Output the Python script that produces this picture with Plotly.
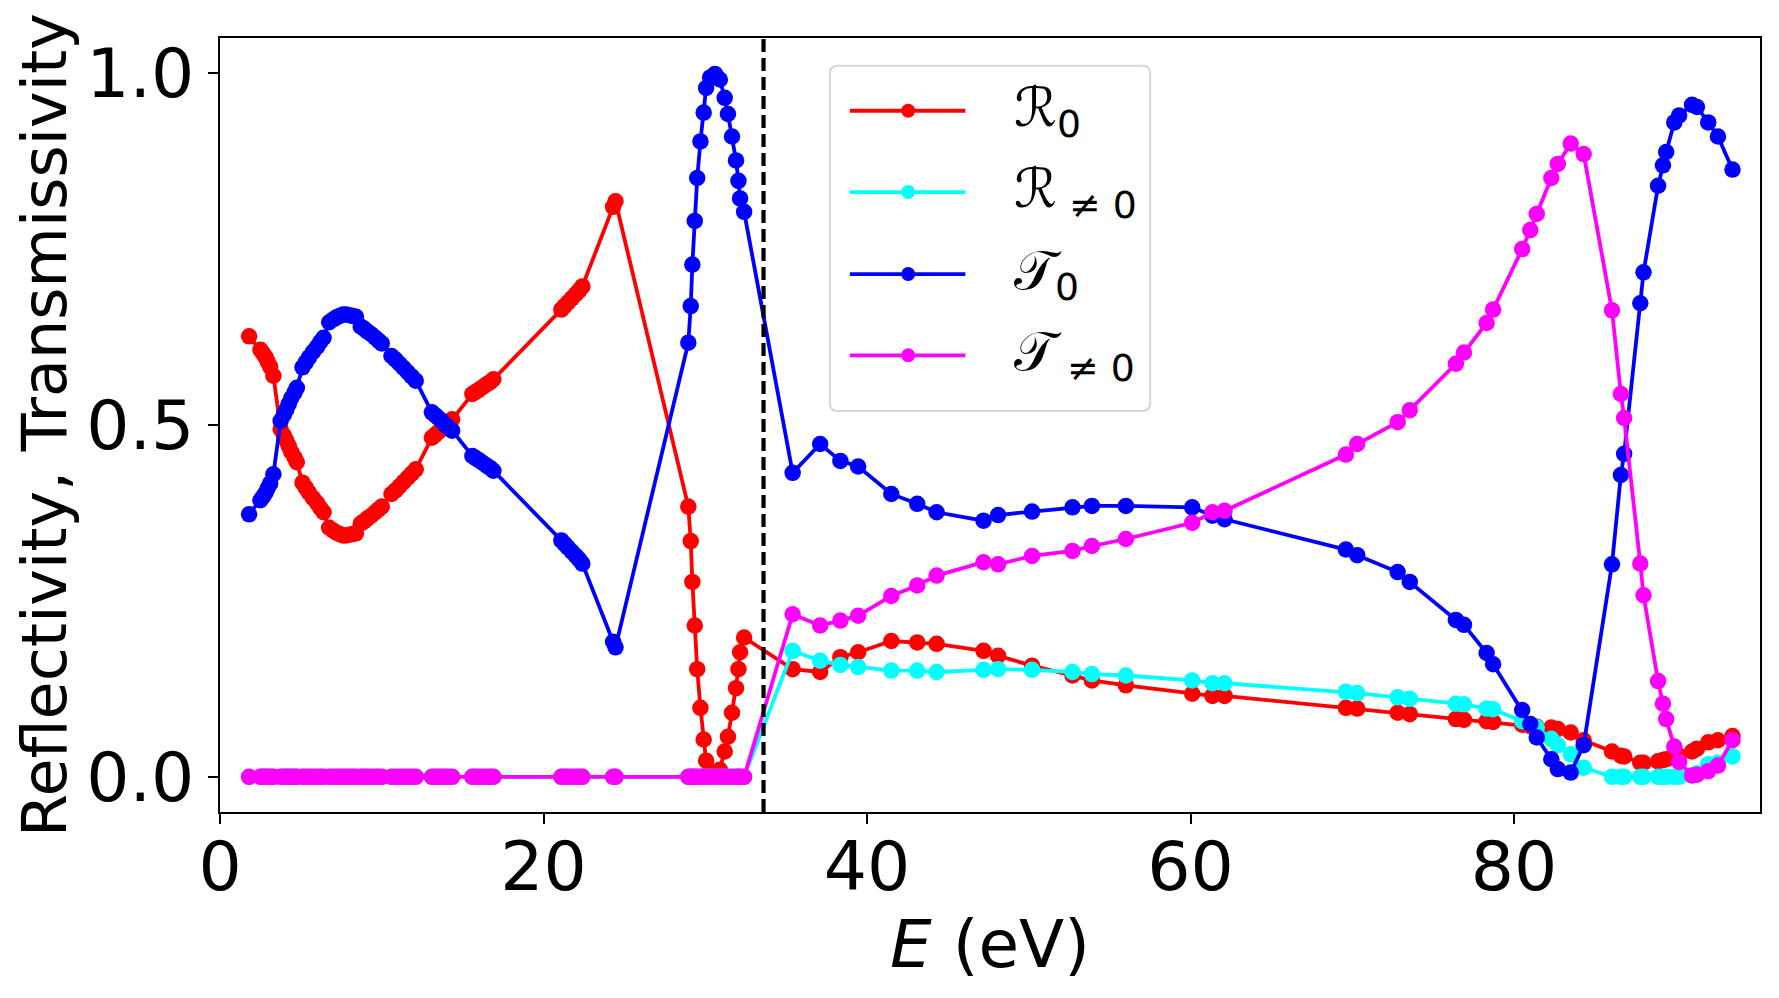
import plotly.graph_objects as go

# photon energy grid (eV), shared by all four curves
energy = [
    1.8,
    2.5, 2.65, 2.8, 2.95, 3.1, 3.3,
    3.75, 3.95, 4.1, 4.25, 4.4, 4.6, 4.75,
    5.1, 5.3, 5.5, 5.75, 6.0, 6.2, 6.4,
    6.75, 7.0, 7.2, 7.4, 7.6, 7.8, 8.0, 8.2, 8.4,
    8.7, 8.9, 9.1, 9.35, 9.6, 9.8, 10.0,
    10.6, 10.85, 11.1, 11.35, 11.6, 11.85, 12.1,
    13.1, 13.3, 13.5, 13.7, 13.9, 14.1, 14.35,
    15.6, 15.8, 16.0, 16.25, 16.5, 16.7, 16.9,
    21.1, 21.3, 21.5, 21.75, 22.0, 22.2, 22.4,
    24.3, 24.45,
    28.95, 29.1, 29.2, 29.35, 29.5, 29.7, 29.9, 30.05, 30.3, 30.6, 30.9,
    31.2, 31.4, 31.65, 31.9, 32.05, 32.15, 32.4,
    35.4, 37.1, 38.35, 39.45, 41.5, 43.1, 44.3, 47.2, 48.1, 50.2, 52.7,
    53.9, 56.0, 60.1, 61.35, 62.1,
    69.6, 70.3, 72.8, 73.55, 76.4, 76.9, 78.3, 78.7, 80.5, 81.0, 81.4,
    82.3, 82.7, 83.5, 84.3, 86.05, 86.6, 86.8, 87.8, 88.0, 88.9, 89.2,
    89.4, 89.9, 90.2, 91.0, 91.3, 92.0, 92.6, 93.5,
]

R0 = [
    0.626,
    0.607, 0.602, 0.597, 0.590, 0.583, 0.570,
    0.494, 0.485, 0.478, 0.470, 0.462, 0.454, 0.447,
    0.418, 0.411, 0.404, 0.396, 0.389, 0.382, 0.376,
    0.354, 0.350, 0.347, 0.345, 0.343, 0.343, 0.344, 0.345, 0.346,
    0.360, 0.363, 0.367, 0.371, 0.376, 0.380, 0.384,
    0.402, 0.407, 0.413, 0.419, 0.425, 0.431, 0.437,
    0.482, 0.486, 0.490, 0.494, 0.499, 0.503, 0.508,
    0.544, 0.547, 0.550, 0.554, 0.558, 0.561, 0.565,
    0.664, 0.669, 0.674, 0.680, 0.686, 0.691, 0.697,
    0.810, 0.818,
    0.384, 0.335, 0.277, 0.215, 0.153, 0.098, 0.053, 0.023, 0.008, 0.002,
    0.010, 0.036, 0.057, 0.091, 0.126, 0.153, 0.177, 0.198,
    0.153, 0.149, 0.170, 0.177, 0.193, 0.191, 0.189, 0.179, 0.172, 0.158,
    0.144, 0.137, 0.130, 0.118, 0.115, 0.115,
    0.098, 0.097, 0.091, 0.089, 0.082, 0.081, 0.079, 0.078, 0.074, 0.072,
    0.071, 0.070, 0.068, 0.063, 0.052, 0.036, 0.030, 0.029, 0.020, 0.020,
    0.022, 0.024, 0.025, 0.027, 0.030, 0.036, 0.040, 0.049, 0.052, 0.058,
]

R_ne0 = [
    0.0,
    0.0, 0.0, 0.0, 0.0, 0.0, 0.0,
    0.0, 0.0, 0.0, 0.0, 0.0, 0.0, 0.0,
    0.0, 0.0, 0.0, 0.0, 0.0, 0.0, 0.0,
    0.0, 0.0, 0.0, 0.0, 0.0, 0.0, 0.0, 0.0, 0.0,
    0.0, 0.0, 0.0, 0.0, 0.0, 0.0, 0.0,
    0.0, 0.0, 0.0, 0.0, 0.0, 0.0, 0.0,
    0.0, 0.0, 0.0, 0.0, 0.0, 0.0, 0.0,
    0.0, 0.0, 0.0, 0.0, 0.0, 0.0, 0.0,
    0.0, 0.0, 0.0, 0.0, 0.0, 0.0, 0.0,
    0.0, 0.0,
    0.0, 0.0, 0.0, 0.0, 0.0, 0.0, 0.0, 0.0, 0.0, 0.0,
    0.0, 0.0, 0.0, 0.0, 0.0, 0.0, 0.0, 0.0,
    0.179, 0.165, 0.159, 0.156, 0.151, 0.151, 0.149, 0.152, 0.153, 0.152,
    0.149, 0.146, 0.144, 0.137, 0.133, 0.133,
    0.121, 0.119, 0.113, 0.111, 0.104, 0.103, 0.097, 0.096, 0.079, 0.075,
    0.070, 0.054, 0.045, 0.032, 0.013, 0.0, 0.0, 0.0, 0.0, 0.0,
    0.0, 0.0, 0.0, 0.0, 0.0, 0.002, 0.005, 0.018, 0.020, 0.029,
]

T0 = [
    0.373,
    0.393, 0.398, 0.403, 0.410, 0.417, 0.430,
    0.506, 0.515, 0.522, 0.530, 0.538, 0.546, 0.553,
    0.582, 0.589, 0.596, 0.604, 0.611, 0.618, 0.624,
    0.646, 0.650, 0.653, 0.655, 0.657, 0.657, 0.656, 0.655, 0.654,
    0.640, 0.637, 0.633, 0.629, 0.624, 0.620, 0.616,
    0.598, 0.593, 0.587, 0.581, 0.575, 0.569, 0.563,
    0.518, 0.514, 0.510, 0.506, 0.501, 0.497, 0.492,
    0.456, 0.453, 0.450, 0.446, 0.442, 0.439, 0.435,
    0.336, 0.331, 0.326, 0.320, 0.314, 0.309, 0.303,
    0.192, 0.184,
    0.617, 0.669, 0.728, 0.790, 0.851, 0.903, 0.944, 0.979, 0.994, 0.999,
    0.991, 0.965, 0.942, 0.910, 0.876, 0.847, 0.822, 0.803,
    0.432, 0.473, 0.449, 0.441, 0.402, 0.388, 0.376, 0.364, 0.372, 0.377,
    0.383, 0.385, 0.385, 0.383, 0.371, 0.366,
    0.323, 0.315, 0.291, 0.277, 0.223, 0.216, 0.176, 0.160, 0.095, 0.075,
    0.056, 0.025, 0.011, 0.006, 0.045, 0.302, 0.429, 0.459, 0.673, 0.717,
    0.840, 0.869, 0.888, 0.930, 0.940, 0.955, 0.952, 0.930, 0.910, 0.863,
]

T_ne0 = [
    0.0,
    0.0, 0.0, 0.0, 0.0, 0.0, 0.0,
    0.0, 0.0, 0.0, 0.0, 0.0, 0.0, 0.0,
    0.0, 0.0, 0.0, 0.0, 0.0, 0.0, 0.0,
    0.0, 0.0, 0.0, 0.0, 0.0, 0.0, 0.0, 0.0, 0.0,
    0.0, 0.0, 0.0, 0.0, 0.0, 0.0, 0.0,
    0.0, 0.0, 0.0, 0.0, 0.0, 0.0, 0.0,
    0.0, 0.0, 0.0, 0.0, 0.0, 0.0, 0.0,
    0.0, 0.0, 0.0, 0.0, 0.0, 0.0, 0.0,
    0.0, 0.0, 0.0, 0.0, 0.0, 0.0, 0.0,
    0.0, 0.0,
    0.0, 0.0, 0.0, 0.0, 0.0, 0.0, 0.0, 0.0, 0.0, 0.0,
    0.0, 0.0, 0.0, 0.0, 0.0, 0.0, 0.0, 0.0,
    0.231, 0.215, 0.222, 0.229, 0.257, 0.272, 0.286, 0.305, 0.302, 0.314,
    0.321, 0.328, 0.338, 0.361, 0.376, 0.378,
    0.458, 0.473, 0.504, 0.521, 0.587, 0.603, 0.645, 0.664, 0.750, 0.777,
    0.800, 0.851, 0.871, 0.900, 0.885, 0.663, 0.544, 0.510, 0.303, 0.258,
    0.136, 0.104, 0.082, 0.043, 0.021, 0.002, 0.003, 0.008, 0.016, 0.052,
]

E_threshold = 33.6

x_ticks = [0, 20, 40, 60, 80]
y_ticks = [0.0, 0.5, 1.0]

series = [
    ("ℛ<sub>0</sub>", R0, "#ff0000"),
    ("ℛ<sub> ≠ 0</sub>", R_ne0, "#00ffff"),
    ("𝒯<sub>0</sub>", T0, "#0000ff"),
    ("𝒯<sub> ≠ 0</sub>", T_ne0, "#ff00ff"),
]

fig = go.Figure()
for name, vals, col in series:
    fig.add_trace(go.Scatter(
        x=energy, y=vals, name=name, mode="lines+markers",
        line=dict(color=col, width=3.8),
        marker=dict(color=col, size=16.5),
        showlegend=False,
    ))

fig.add_vline(x=E_threshold, line=dict(color="black", width=4.2, dash="13px,6px"))

# hand-made legend box (matplotlib style: long line sample, rounded frame)
lx0, lx1, ly0, ly1 = 0.396, 0.604, 0.518, 0.964
rx, ry = 0.0052, 0.0103
box = (f"M {lx0+rx},{ly0} L {lx1-rx},{ly0} Q {lx1},{ly0} {lx1},{ly0+ry} "
       f"L {lx1},{ly1-ry} Q {lx1},{ly1} {lx1-rx},{ly1} L {lx0+rx},{ly1} "
       f"Q {lx0},{ly1} {lx0},{ly1-ry} L {lx0},{ly0+ry} Q {lx0},{ly0} {lx0+rx},{ly0} Z")
fig.add_shape(type="path", path=box, xref="paper", yref="paper",
              line=dict(color="#d6d6d6", width=2), fillcolor="white", layer="above")
entry_y = [0.906, 0.801, 0.695, 0.590]
for (name, vals, col), yy in zip(series, entry_y):
    fig.add_shape(type="line", xref="paper", yref="paper", x0=0.409, x1=0.484,
                  y0=yy, y1=yy, line=dict(color=col, width=3.8), layer="above")
    fig.add_shape(type="circle", xref="paper", yref="paper",
                  xsizemode="pixel", ysizemode="pixel", xanchor=0.4469, yanchor=yy,
                  x0=-7, x1=7, y0=-7, y1=7,
                  line=dict(color=col, width=0), fillcolor=col, layer="above")
    fig.add_annotation(x=0.514, y=yy, xref="paper", yref="paper", text=name,
                       showarrow=False, xanchor="left", yanchor="middle",
                       font=dict(size=54, color="black"))

axis_style = dict(
    showline=True, linecolor="black", linewidth=2, mirror=True,
    ticks="outside", ticklen=10, tickwidth=2, tickcolor="black",
    showgrid=False, zeroline=False, automargin=False,
    tickfont=dict(size=68, color="black"),
)

fig.update_xaxes(range=[0, 95.2], tickvals=x_ticks, ticklabelstandoff=-16,
                 title=dict(text="<i>E</i> (eV)", font=dict(size=66, color="black"), standoff=4),
                 **axis_style)
fig.update_yaxes(range=[-0.05, 1.05], tickvals=y_ticks, tickformat=".1f",
                 ticklabelstandoff=0,
                 title=dict(text="Reflectivity, Transmissivity", font=dict(size=62, color="black"), standoff=4),
                 **axis_style)

# the page body adds an 8 px offset, so the margins are trimmed by 8 on the left/top
fig.update_layout(
    width=1779, height=998,
    margin=dict(l=212, r=27, t=30, b=194),
    paper_bgcolor="white", plot_bgcolor="white",
    font=dict(family="DejaVu Sans", color="black"),
    showlegend=False,
)

fig.write_html("out.html")
